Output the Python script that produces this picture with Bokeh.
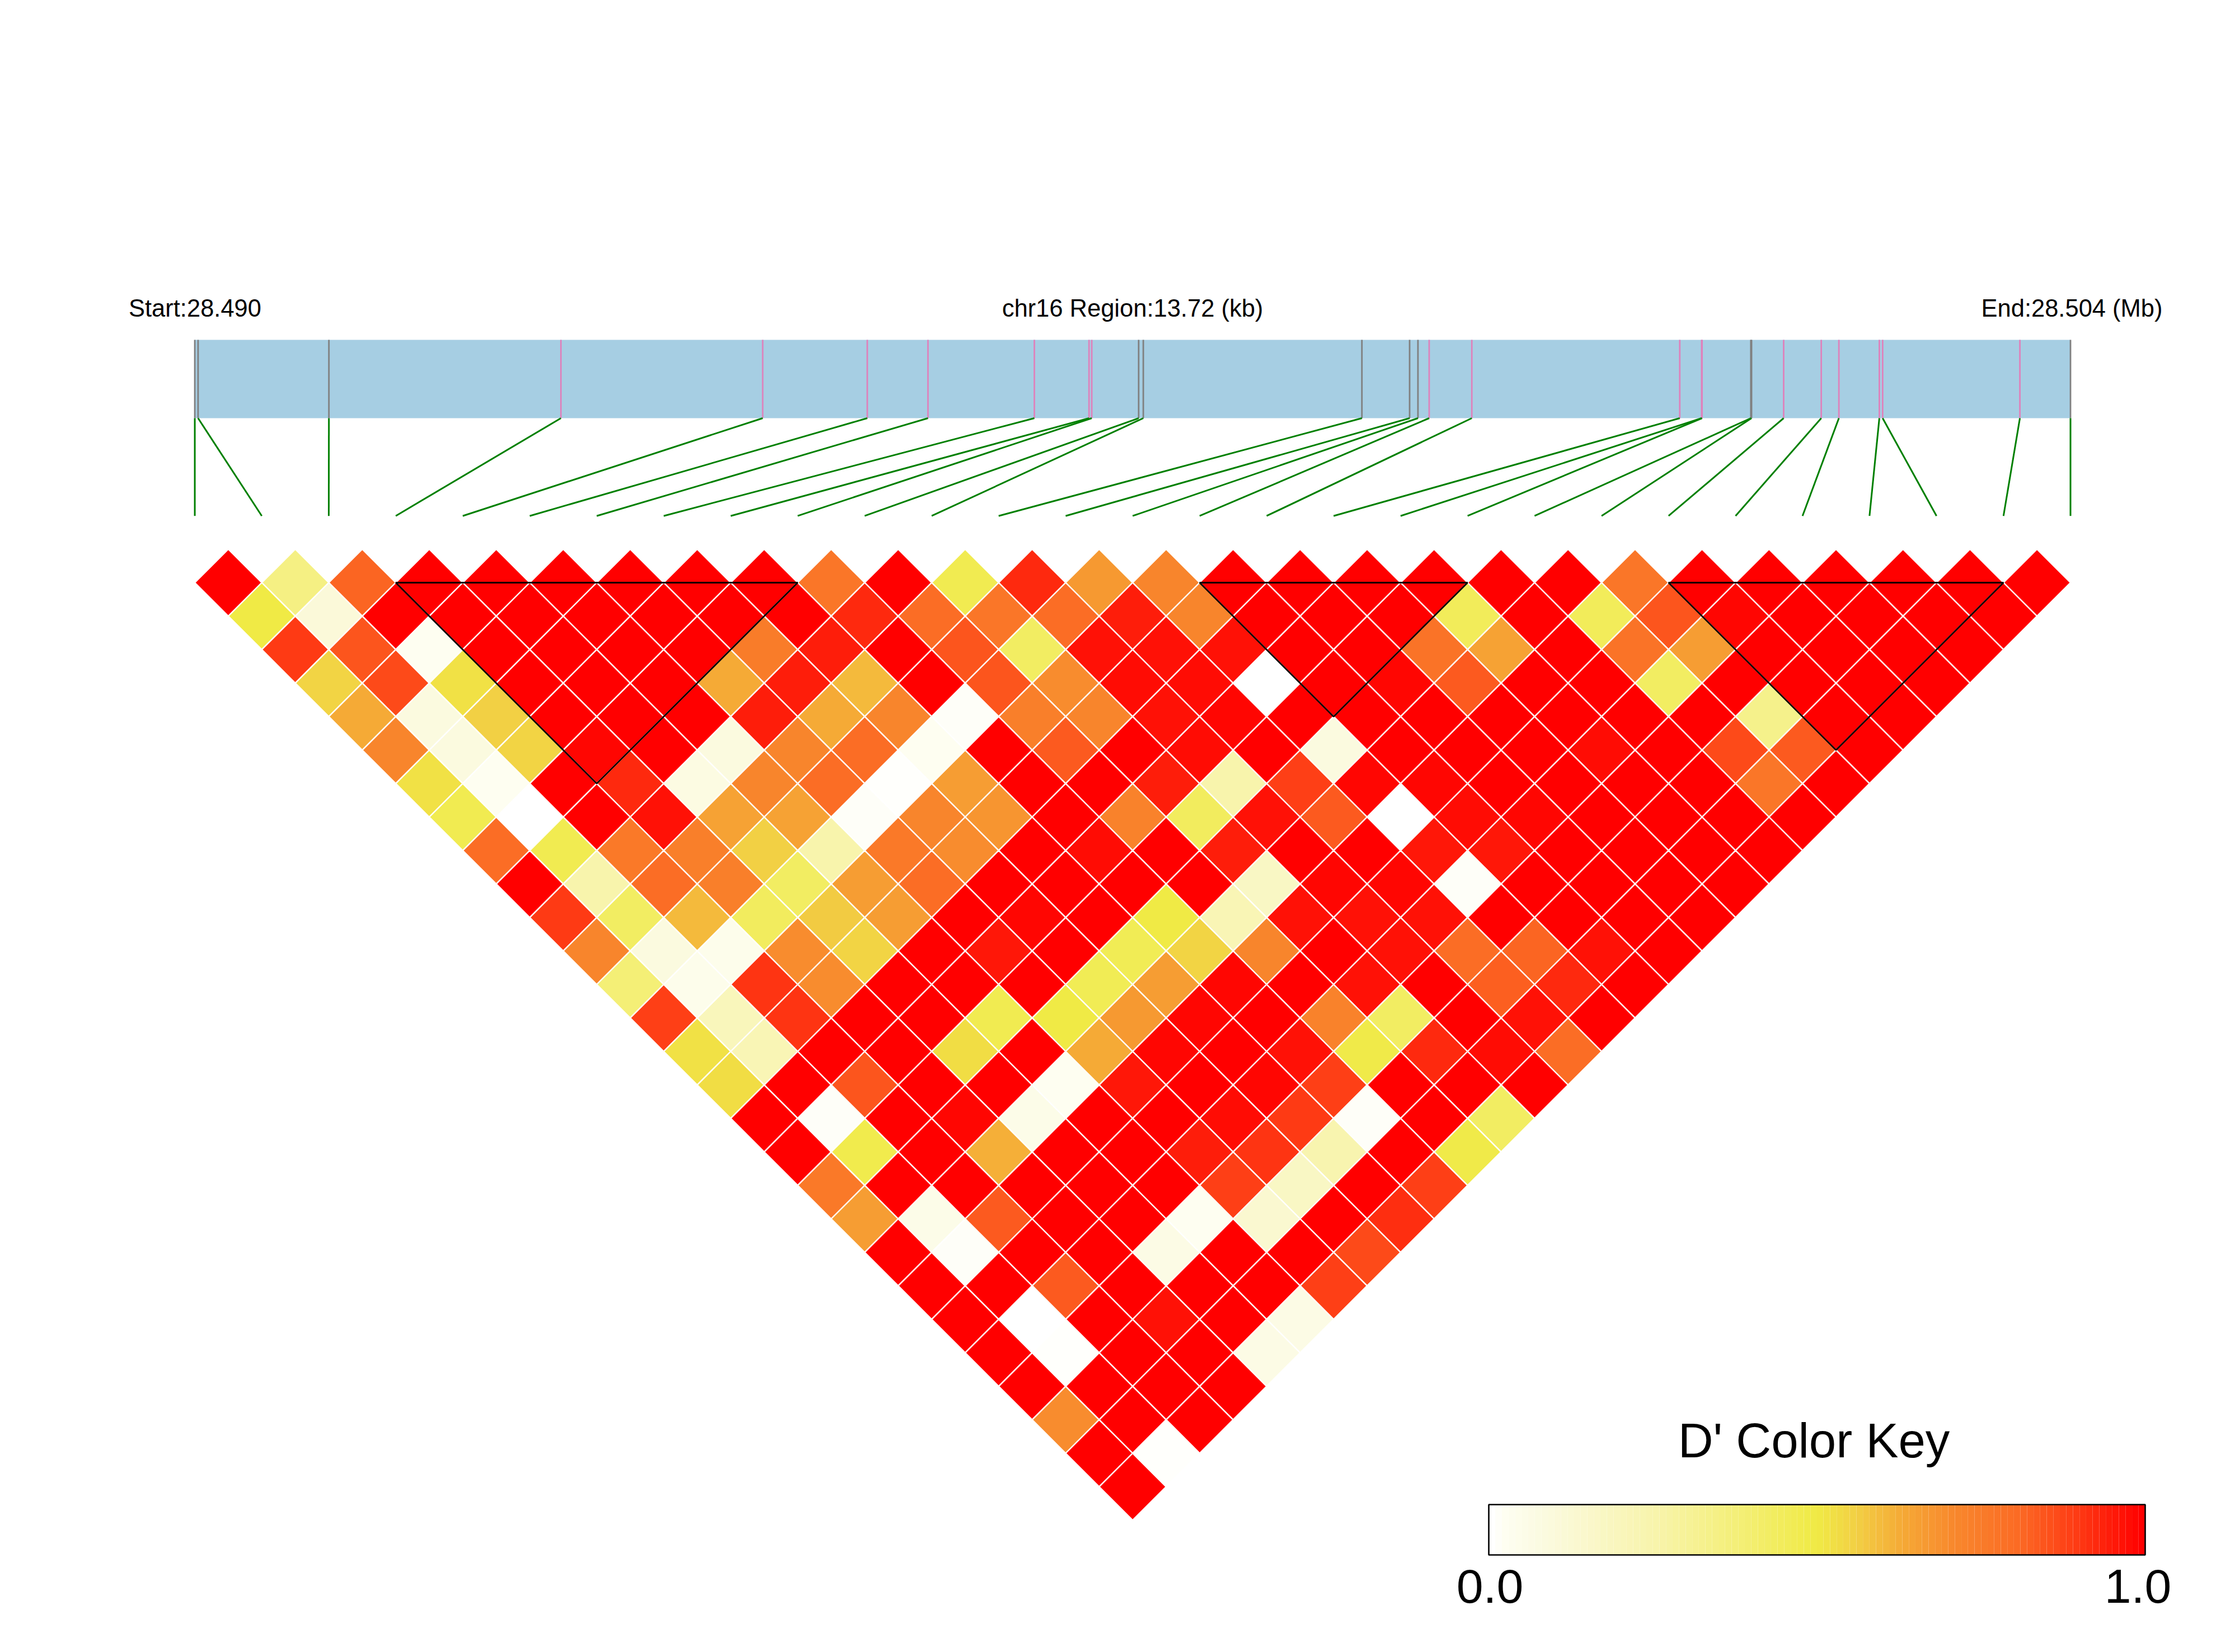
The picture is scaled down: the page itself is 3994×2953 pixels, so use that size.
from bokeh.plotting import figure
from bokeh.models import Range1d
from bokeh.core.properties import value
from bokeh.embed import file_html
from bokeh.resources import INLINE
import numpy as np

# ---------- data ----------
region_start_mb = "Start:28.490"
region_mid = "chr16 Region:13.72 (kb)"
region_end_mb = "End:28.504 (Mb)"
region_kb = 13.72

snp_kb = [0, 0.024, 0.981, 2.678, 4.154, 4.919, 5.363, 6.141, 6.541, 6.561,
          6.904, 6.938, 8.537, 8.886, 8.947, 9.029, 9.341, 10.862, 11.022, 11.025,
          11.382, 11.387, 11.622, 11.897, 12.026, 12.322, 12.346, 13.350, 13.72]
snp_kind = list("gggpppppppgggggpppppggppppppg")

ld_blocks = [(3, 9), (15, 19), (22, 27)]

row00 = [1,.35,.82,1,1,1,1,1,1,.77,1,.47,.93,.67,.72,1,1,1,1,1,1,.77,1,1,1,1,1,1]
row01 = [.5,.1,1,1,1,1,1,1,1,.93,.8,.77,.8,.95,.72,1,1,1,.45,1,.45,.85,.99,1,1,1,1]
row02 = [.9,.85,.02,1,1,1,1,.75,.95,1,.85,.43,.97,.97,.97,1,1,.78,.65,1,.78,.66,1,1,1,1]
row03 = [.55,.87,.52,1,1,1,.63,.95,.6,1,.85,.7,.98,.98,0,1,.99,.84,1,1,.43,1,1,1,1]
row04 = [.63,.08,.56,1,1,1,.95,.63,.72,.01,.74,.72,.97,.99,1,1,1,1,1,1,1,.33,1,1]
row05 = [.72,.08,.55,.99,1,.08,.72,.8,.02,1,.84,1,.98,1,.08,1,1,1,.98,1,.87,.84,1]
row06 = [.52,.02,1,.93,.07,.72,.8,.005,.66,1,1,.95,.25,.89,.99,.99,1,1,1,1,.77,1]
row07 = [.47,0,1,.97,.65,.65,.01,.72,.68,1,.73,.44,.97,.84,0,.98,.99,1,1,1,1]
row08 = [.8,.47,.76,.74,.56,.25,.76,.7,1,.98,1,.95,1,1,.96,.96,1,1,1,1]
row09 = [1,.25,.8,.74,.43,.66,.8,1,1,1,1,.17,.99,.99,.01,1,1,1,1]
row10 = [.9,.43,.6,.44,.57,.66,1,.99,1,.5,.22,.97,.97,.97,1,1,1,1]
row11 = [.72,.08,.04,.7,.55,1,.96,1,.46,.55,.72,1,.97,.8,.82,.97,1]
row12 = [.38,.04,.91,.7,1,1,1,.46,.66,.99,1,.97,1,.83,.93,1]
row13 = [.89,.2,.91,1,1,.47,.5,.67,.99,1,.73,.43,1,.97,1]
row14 = [.52,.22,1,1,.53,1,.63,.99,1,.97,.49,.93,.98,.8]
row15 = [.53,1,.85,1,1,.02,.96,1,.99,.89,1,1,1]
row16 = [1,.01,1,.99,.05,1,1,.98,.9,.01,1,.43]
row17 = [1,.48,1,.62,1,1,.95,.91,.24,1,.49]
row18 = [.76,1,1,1,1,1,.89,.17,1,.89]
row19 = [.66,.05,.84,1,1,.02,.13,1,.92]
row20 = [1,.01,1,1,.06,1,1,.87]
row21 = [1,1,.84,1,1,1,.89]
row22 = [1,0,1,.97,1,.06]
row23 = [1,.005,1,1,.06]
row24 = [1,1,1,1]
row25 = [.7,1,1]
row26 = [1,.005]
row27 = [1]
dprime_rows = [row00,row01,row02,row03,row04,row05,row06,row07,row08,row09,
               row10,row11,row12,row13,row14,row15,row16,row17,row18,row19,
               row20,row21,row22,row23,row24,row25,row26,row27]

# ---------- styles / layout ----------
ramp_at = [0, .02, .08, .25, .5, .56, .63, .71, .81, .9, 1]
ramp_hex = ["#FFFFFF", "#FEFEF1", "#FBFADF", "#F8F4AC", "#F0EA45", "#F2D044", "#F5AA36", "#F8882D", "#FB6A24", "#FE3A14", "#FF0000"]
ramp_rgb = np.array([[int(h[i:i+2], 16) for i in (1, 3, 5)] for h in ramp_hex], float)

def colour(v):
    c = [np.interp(v, ramp_at, ramp_rgb[:, n]) for n in range(3)]
    return "#%02X%02X%02X" % tuple(int(round(x)) for x in c)

FONT = value("Liberation Sans")
BAR_L, BAR_R, BAR_T, BAR_B = 347.6, 3699.5, 607.0, 747.0
LINK_B = 921.7
TOP_Y = 1041.0
STEP = (BAR_R - BAR_L) / 28

def kb2x(kb):
    return BAR_L + (BAR_R - BAR_L) * kb / region_kb

def snp_x(i):
    return BAR_L + STEP * i

p = figure(width=3978, height=2937, x_range=Range1d(0, 3978), y_range=Range1d(2937, 0),
           output_backend="svg", toolbar_location=None, min_border=0,
           x_axis_type=None, y_axis_type=None, background_fill_color="white",
           border_fill_color="white", outline_line_color=None)
p.grid.visible = False

# header texts
p.text([229.5], [550], text=[region_start_mb], text_font=FONT, text_font_size=value("43.5px"),
       text_align="left", text_baseline="alphabetic", text_color="black")
p.text([2023.5], [550], text=[region_mid], text_font=FONT, text_font_size=value("43.5px"),
       text_align="center", text_baseline="alphabetic", text_color="black")
p.text([3864], [550], text=[region_end_mb], text_font=FONT, text_font_size=value("43.5px"),
       text_align="right", text_baseline="alphabetic", text_color="black")

# gene bar and SNP ticks
p.quad(left=[BAR_L], right=[BAR_R], top=[BAR_T], bottom=[BAR_B], fill_color="#A6CEE3", line_color=None)
tick_cols = {"g": "#808080", "p": "#DE82BC"}
xs_mark = [kb2x(k) for k in snp_kb]
p.segment(xs_mark, [BAR_T]*29, xs_mark, [BAR_B]*29, line_color=[tick_cols[k] for k in snp_kind], line_width=2.8)
p.segment(xs_mark, [BAR_B]*29, [snp_x(i) for i in range(29)], [LINK_B]*29, line_color="#008000", line_width=3)

# LD diamonds
dx, dy, cols = [], [], []
half = STEP / 2
for r, row in enumerate(dprime_rows):
    for k, v in enumerate(row):
        cx = (snp_x(k) + snp_x(k + r + 1)) / 2
        cy = TOP_Y + half * r
        dx.append([cx - half, cx, cx + half, cx])
        dy.append([cy, cy - half, cy, cy + half])
        cols.append(colour(v))
p.patches(dx, dy, fill_color=cols, line_color="white", line_width=2.4)

# haplotype block outlines
for a, b in ld_blocks:
    xa, xb = snp_x(a), snp_x(b)
    p.patch([xa, xb, (xa + xb) / 2, xa], [TOP_Y, TOP_Y, TOP_Y + (xb - xa) / 2, TOP_Y],
            fill_color=None, line_color="black", line_width=2.8)

# colour key
KEY_L, KEY_R, KEY_T, KEY_B = 2660.0, 3833.0, 2689.0, 2779.0
levels = np.linspace(0, 1, 100)
edges = np.linspace(KEY_L, KEY_R, 101)
p.quad(left=edges[:-1], right=edges[1:], top=[KEY_T]*100, bottom=[KEY_B]*100,
       fill_color=[colour(v) for v in levels], line_color=None)
p.quad(left=[KEY_L], right=[KEY_R], top=[KEY_T], bottom=[KEY_B], fill_color=None,
       line_color="black", line_width=2.6)
p.text([3241], [2574], text=["D' Color Key"], text_font=FONT, text_font_size=value("87px"),
       text_align="center", text_baseline="alphabetic", text_color="black")
p.text([2662], [2835], text=["0.0"], text_font=FONT, text_font_size=value("86px"),
       text_align="center", text_baseline="alphabetic", text_color="black")
p.text([3820], [2835], text=["1.0"], text_font=FONT, text_font_size=value("86px"),
       text_align="center", text_baseline="alphabetic", text_color="black")

open("out.html", "w").write(file_html(p, INLINE))
